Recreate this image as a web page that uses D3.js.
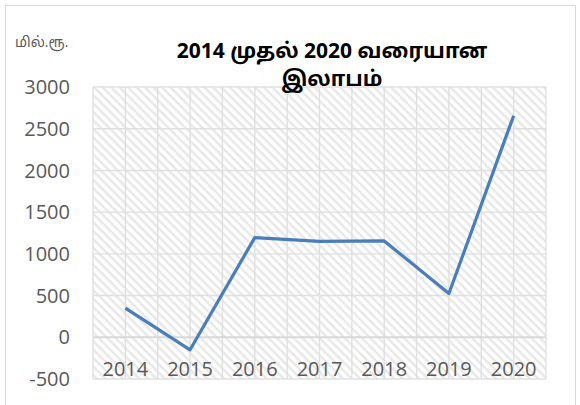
<!DOCTYPE html>
<html>
<head>
<meta charset="utf-8">
<script src="https://cdn.jsdelivr.net/npm/d3@7"></script>
<style>
  body { margin: 0; background: #fff; }
  text { font-family: "Open Sans", "Noto Sans Tamil", "Noto Sans Tamil UI", "Lohit Tamil", "Noto Sans", sans-serif; }
</style>
</head>
<body>
<svg id="chart"></svg>
<script>
var years = ["2014", "2015", "2016", "2017", "2018", "2019", "2020"];
var profit = [350, -150, 1195, 1150, 1155, 525, 2655];
var yTicks = [-500, 0, 500, 1000, 1500, 2000, 2500, 3000];
var titleLines = ["2014 முதல் 2020 வரையான", "இலாபம்"];
var unitLabel = "மில்.ரூ.";

var width = 580, height = 405;
var margin = { top: 87, right: 34, bottom: 26, left: 93 };

var svg = d3.select("#chart")
  .attr("width", width)
  .attr("height", height);

// hatch pattern for the plot background
var defs = svg.append("defs");
var pat = defs.append("pattern")
  .attr("id", "hatch")
  .attr("patternUnits", "userSpaceOnUse")
  .attr("width", 6)
  .attr("height", 6)
  .attr("patternTransform", "rotate(45)");
pat.append("rect").attr("width", 6).attr("height", 6).attr("fill", "#fff");
pat.append("rect").attr("width", 6).attr("height", 2.4).attr("fill", "#e8e8e8");

// chart border
svg.append("rect")
  .attr("x", 5.5).attr("y", 5.5)
  .attr("width", 570).attr("height", 410)
  .attr("fill", "none")
  .attr("stroke", "#d9d9d9");

var x = d3.scaleBand()
  .domain(years)
  .range([margin.left, width - margin.right]);

var y = d3.scaleLinear()
  .domain([-500, 3000])
  .range([height - margin.bottom, margin.top]);

svg.append("rect")
  .attr("x", margin.left)
  .attr("y", margin.top)
  .attr("width", x.range()[1] - x.range()[0])
  .attr("height", y(-500) - y(3000))
  .attr("fill", "url(#hatch)");

// vertical grid: category edges and centres
var vLines = [];
years.forEach(function(d) {
  vLines.push(x(d));
  vLines.push(x(d) + x.bandwidth() / 2);
});
vLines.push(x.range()[1]);

svg.append("g").selectAll("line")
  .data(vLines)
  .enter().append("line")
  .attr("x1", function(d) { return d; })
  .attr("x2", function(d) { return d; })
  .attr("y1", y(3000))
  .attr("y2", y(-500))
  .attr("stroke", "#e0e0e0")
  .attr("stroke-width", 1.4);

svg.append("g").selectAll("line")
  .data(yTicks)
  .enter().append("line")
  .attr("x1", margin.left)
  .attr("x2", width - margin.right)
  .attr("y1", function(d) { return y(d); })
  .attr("y2", function(d) { return y(d); })
  .attr("stroke", function(d) { return d === 0 ? "#d9d9d9" : "#e0e0e0"; })
  .attr("stroke-width", function(d) { return d === 0 ? 2 : 1.4; });

// y axis labels
svg.append("g").selectAll("text")
  .data(yTicks)
  .enter().append("text")
  .attr("x", 70)
  .attr("y", function(d) { return y(d); })
  .attr("dy", "0.36em")
  .attr("text-anchor", "end")
  .style("font-size", "20px")
  .attr("fill", "#595959")
  .text(function(d) { return d; });

// x labels sit inside the plot, above the bottom edge
svg.append("g").selectAll("text")
  .data(years)
  .enter().append("text")
  .attr("x", function(d) { return x(d) + x.bandwidth() / 2; })
  .attr("y", y(-500) - 3)
  .attr("text-anchor", "middle")
  .style("font-size", "20px")
  .attr("fill", "#595959")
  .text(function(d) { return d; });

var line = d3.line()
  .x(function(d, i) { return x(years[i]) + x.bandwidth() / 2; })
  .y(function(d) { return y(d); });

svg.append("path")
  .datum(profit)
  .attr("d", line)
  .attr("fill", "none")
  .attr("stroke", "#4a7ebb")
  .attr("stroke-width", 3.2)
  .attr("stroke-linejoin", "round");

// title
svg.append("g").selectAll("text")
  .data(titleLines)
  .enter().append("text")
  .attr("x", 332)
  .attr("y", function(d, i) { return 58 + i * 28; })
  .attr("text-anchor", "middle")
  .style("font-size", "21px")
  .style("font-weight", "bold")
  .attr("fill", "#000")
  .text(function(d) { return d; });

svg.append("text")
  .attr("x", 15)
  .attr("y", 47)
  .style("font-size", "14px")
  .attr("fill", "#595959")
  .text(unitLabel);
</script>
</body>
</html>
